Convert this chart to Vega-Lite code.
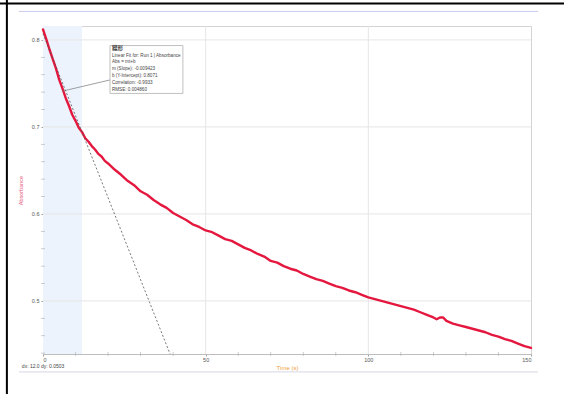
{
  "$schema": "https://vega.github.io/schema/vega-lite/v6.json",
  "width": 488,
  "height": 328,
  "autosize": {"type": "none"},
  "padding": {"left": 43, "top": 26, "right": 33, "bottom": 40},
  "background": "white",
  "config": {
    "view": {"stroke": "#d4d4d4", "strokeWidth": 1},
    "font": "Liberation Sans",
    "axis": {
      "grid": false,
      "labelFontSize": 5.5,
      "labelColor": "#555",
      "domainColor": "#bdbdbd",
      "tickColor": "#a0a0a0",
      "tickSize": 2,
      "titleFontWeight": "normal",
      "labelOverlap": false
    },
    "axisX": {
      "tickCount": 3,
      "labelPadding": 1,
      "titleColor": "#f0a040",
      "titleFontSize": 6,
      "titlePadding": 2
    },
    "axisY": {
      "tickCount": 4,
      "labelPadding": 2,
      "titleColor": "#e8587c",
      "titleFontSize": 5.5,
      "titlePadding": 8
    }
  },
  "data": {"values": [{}]},
  "datasets": {
    "run1": [
      {"t": 0, "A": 0.812}, {"t": 1, "A": 0.801}, {"t": 2, "A": 0.789}, {"t": 3, "A": 0.778},
      {"t": 4, "A": 0.767}, {"t": 5, "A": 0.754}, {"t": 6, "A": 0.744}, {"t": 7, "A": 0.733},
      {"t": 8, "A": 0.724}, {"t": 9, "A": 0.714}, {"t": 10, "A": 0.707}, {"t": 11, "A": 0.699},
      {"t": 12, "A": 0.694}, {"t": 13, "A": 0.687}, {"t": 14, "A": 0.683}, {"t": 15, "A": 0.678},
      {"t": 16, "A": 0.674}, {"t": 17, "A": 0.669}, {"t": 18, "A": 0.666}, {"t": 19, "A": 0.661},
      {"t": 20, "A": 0.658}, {"t": 22, "A": 0.651}, {"t": 24, "A": 0.645}, {"t": 26, "A": 0.638},
      {"t": 28, "A": 0.633}, {"t": 30, "A": 0.626}, {"t": 32, "A": 0.622}, {"t": 34, "A": 0.616},
      {"t": 36, "A": 0.611}, {"t": 38, "A": 0.607}, {"t": 40, "A": 0.601}, {"t": 42, "A": 0.597},
      {"t": 44, "A": 0.593}, {"t": 46, "A": 0.588}, {"t": 48, "A": 0.585}, {"t": 50, "A": 0.581},
      {"t": 52, "A": 0.579}, {"t": 54, "A": 0.575}, {"t": 56, "A": 0.571}, {"t": 58, "A": 0.569},
      {"t": 60, "A": 0.565}, {"t": 62, "A": 0.561}, {"t": 64, "A": 0.558}, {"t": 66, "A": 0.554},
      {"t": 68, "A": 0.551}, {"t": 70, "A": 0.546}, {"t": 72, "A": 0.544}, {"t": 74, "A": 0.540},
      {"t": 76, "A": 0.537}, {"t": 78, "A": 0.535}, {"t": 80, "A": 0.531}, {"t": 82, "A": 0.528},
      {"t": 84, "A": 0.525}, {"t": 86, "A": 0.523}, {"t": 88, "A": 0.520}, {"t": 90, "A": 0.517},
      {"t": 92, "A": 0.515}, {"t": 94, "A": 0.512}, {"t": 96, "A": 0.510}, {"t": 98, "A": 0.507},
      {"t": 100, "A": 0.504}, {"t": 102, "A": 0.502}, {"t": 104, "A": 0.500}, {"t": 106, "A": 0.498},
      {"t": 108, "A": 0.496}, {"t": 110, "A": 0.494}, {"t": 112, "A": 0.492}, {"t": 114, "A": 0.490},
      {"t": 116, "A": 0.487}, {"t": 118, "A": 0.484}, {"t": 120, "A": 0.481}, {"t": 121, "A": 0.479},
      {"t": 122, "A": 0.481}, {"t": 123, "A": 0.481}, {"t": 124, "A": 0.477}, {"t": 126, "A": 0.474},
      {"t": 128, "A": 0.472}, {"t": 130, "A": 0.470}, {"t": 132, "A": 0.468}, {"t": 134, "A": 0.466},
      {"t": 136, "A": 0.464}, {"t": 138, "A": 0.461}, {"t": 140, "A": 0.459}, {"t": 142, "A": 0.456},
      {"t": 144, "A": 0.454}, {"t": 146, "A": 0.451}, {"t": 148, "A": 0.448}, {"t": 150, "A": 0.446}
    ],
    "selection": [{"start": 0, "end": 12}],
    "gridTime": [{"t": 50}, {"t": 100}],
    "gridAbs": [{"A": 0.5}, {"A": 0.6}, {"A": 0.7}, {"A": 0.8}],
    "minorTime": [
      {"t": 10}, {"t": 20}, {"t": 30}, {"t": 40}, {"t": 60}, {"t": 70}, {"t": 80}, {"t": 90},
      {"t": 110}, {"t": 120}, {"t": 130}, {"t": 140}
    ],
    "minorAbs": [
      {"A": 0.44}, {"A": 0.46}, {"A": 0.48}, {"A": 0.52}, {"A": 0.54}, {"A": 0.56}, {"A": 0.58},
      {"A": 0.62}, {"A": 0.64}, {"A": 0.66}, {"A": 0.68}, {"A": 0.72}, {"A": 0.74}, {"A": 0.76}, {"A": 0.78}
    ]
  },
  "layer": [
    {
      "data": {"name": "selection"},
      "mark": {"type": "rect", "color": "#edf3fc"},
      "encoding": {
        "x": {"field": "start", "type": "quantitative", "title": "Time (s)", "scale": {"domain": [0, 150], "nice": false, "zero": false}},
        "x2": {"field": "end"}
      }
    },
    {
      "data": {"name": "gridTime"},
      "mark": {"type": "rule", "color": "#e6e6e6", "strokeWidth": 1},
      "encoding": {"x": {"field": "t", "type": "quantitative", "title": "Time (s)"}}
    },
    {
      "data": {"name": "gridAbs"},
      "mark": {"type": "rule", "color": "#e6e6e6", "strokeWidth": 1},
      "encoding": {"y": {"field": "A", "type": "quantitative", "title": "Absorbance", "scale": {"domain": [0.439, 0.816], "nice": false, "zero": false}}}
    },
    {
      "data": {"name": "minorTime"},
      "mark": {"type": "tick", "orient": "vertical", "color": "#a8a8a8", "size": 4, "thickness": 0.8, "clip": false},
      "encoding": {
        "x": {"field": "t", "type": "quantitative", "title": "Time (s)"},
        "y": {"datum": 0.439, "type": "quantitative", "title": "Absorbance"}
      }
    },
    {
      "data": {"name": "minorAbs"},
      "mark": {"type": "tick", "orient": "horizontal", "color": "#a8a8a8", "size": 4, "thickness": 0.8, "clip": false},
      "encoding": {
        "y": {"field": "A", "type": "quantitative", "title": "Absorbance"},
        "x": {"datum": 0, "type": "quantitative", "title": "Time (s)"}
      }
    },
    {
      "data": {"name": "run1"},
      "mark": {"type": "line", "color": "#e4183f", "strokeWidth": 2.4, "strokeJoin": "round", "strokeCap": "round"},
      "encoding": {
        "x": {"field": "t", "type": "quantitative", "title": "Time (s)"},
        "y": {"field": "A", "type": "quantitative", "title": "Absorbance"}
      }
    },
    {
      "mark": {"type": "rule", "color": "#555", "strokeWidth": 0.8, "strokeDash": [2, 2]},
      "encoding": {
        "x": {"datum": 0, "type": "quantitative", "title": "Time (s)"},
        "y": {"datum": 0.8071, "type": "quantitative", "title": "Absorbance"},
        "x2": {"datum": 39.06},
        "y2": {"datum": 0.439}
      }
    },
    {
      "mark": {"type": "rule", "color": "#777", "strokeWidth": 0.7},
      "encoding": {
        "x": {"datum": 5.8, "type": "quantitative", "title": "Time (s)"},
        "y": {"datum": 0.741, "type": "quantitative", "title": "Absorbance"},
        "x2": {"datum": 20.6},
        "y2": {"datum": 0.754}
      }
    },
    {
      "mark": {"type": "rect", "fill": "white", "stroke": "#b0b0b0", "strokeWidth": 0.8},
      "encoding": {
        "x": {"datum": 20.6, "type": "quantitative", "title": "Time (s)"},
        "x2": {"datum": 43.0},
        "y": {"datum": 0.7935, "type": "quantitative", "title": "Absorbance"},
        "y2": {"datum": 0.7385}
      }
    },
    {
      "mark": {"type": "text", "align": "left", "baseline": "top", "fontSize": 5.5, "fontWeight": "bold", "font": "Noto Sans CJK JP", "color": "#333", "text": "線形"},
      "encoding": {
        "x": {"datum": 21.2, "type": "quantitative", "title": "Time (s)"},
        "y": {"datum": 0.7925, "type": "quantitative", "title": "Absorbance"}
      }
    },
    {
      "mark": {
        "type": "text", "align": "left", "baseline": "top", "fontSize": 4.6, "lineHeight": 6.8, "color": "#444",
        "text": ["Linear Fit for: Run 1 | Absorbance", "Abs = mt+b", "m (Slope): -0.009423", "b (Y-Intercept): 0.8071", "Correlation: -0.9933", "RMSE: 0.004860"]
      },
      "encoding": {
        "x": {"datum": 21.2, "type": "quantitative", "title": "Time (s)"},
        "y": {"datum": 0.7855, "type": "quantitative", "title": "Absorbance"}
      }
    },
    {
      "mark": {"type": "text", "align": "left", "baseline": "middle", "fontSize": 5, "color": "#444", "clip": false, "text": "dx: 12.0  dy: 0.0503"},
      "encoding": {
        "x": {"datum": -6.5, "type": "quantitative", "title": "Time (s)"},
        "y": {"datum": 0.4255, "type": "quantitative", "title": "Absorbance"}
      }
    },
    {
      "mark": {"type": "rule", "color": "#d6d6e6", "strokeWidth": 1, "clip": false},
      "encoding": {
        "x": {"datum": -7.4, "type": "quantitative", "title": "Time (s)"},
        "x2": {"datum": 152.2},
        "y": {"datum": 0.4184, "type": "quantitative", "title": "Absorbance"}
      }
    },
    {
      "mark": {"type": "rule", "color": "#c9c9f0", "strokeWidth": 1, "clip": false},
      "encoding": {
        "x": {"datum": -7.4, "type": "quantitative", "title": "Time (s)"},
        "x2": {"datum": 152.2},
        "y": {"datum": 0.8328, "type": "quantitative", "title": "Absorbance"}
      }
    },
    {
      "mark": {"type": "rule", "color": "black", "strokeWidth": 2, "clip": false},
      "encoding": {
        "x": {"datum": -13.3, "type": "quantitative", "title": "Time (s)"},
        "x2": {"datum": 160.3},
        "y": {"datum": 0.8420, "type": "quantitative", "title": "Absorbance"}
      }
    },
    {
      "mark": {"type": "rule", "color": "black", "strokeWidth": 2, "clip": false},
      "encoding": {
        "x": {"datum": -11.1, "type": "quantitative", "title": "Time (s)"},
        "y": {"datum": 0.847, "type": "quantitative", "title": "Absorbance"},
        "y2": {"datum": 0.392}
      }
    }
  ]
}
